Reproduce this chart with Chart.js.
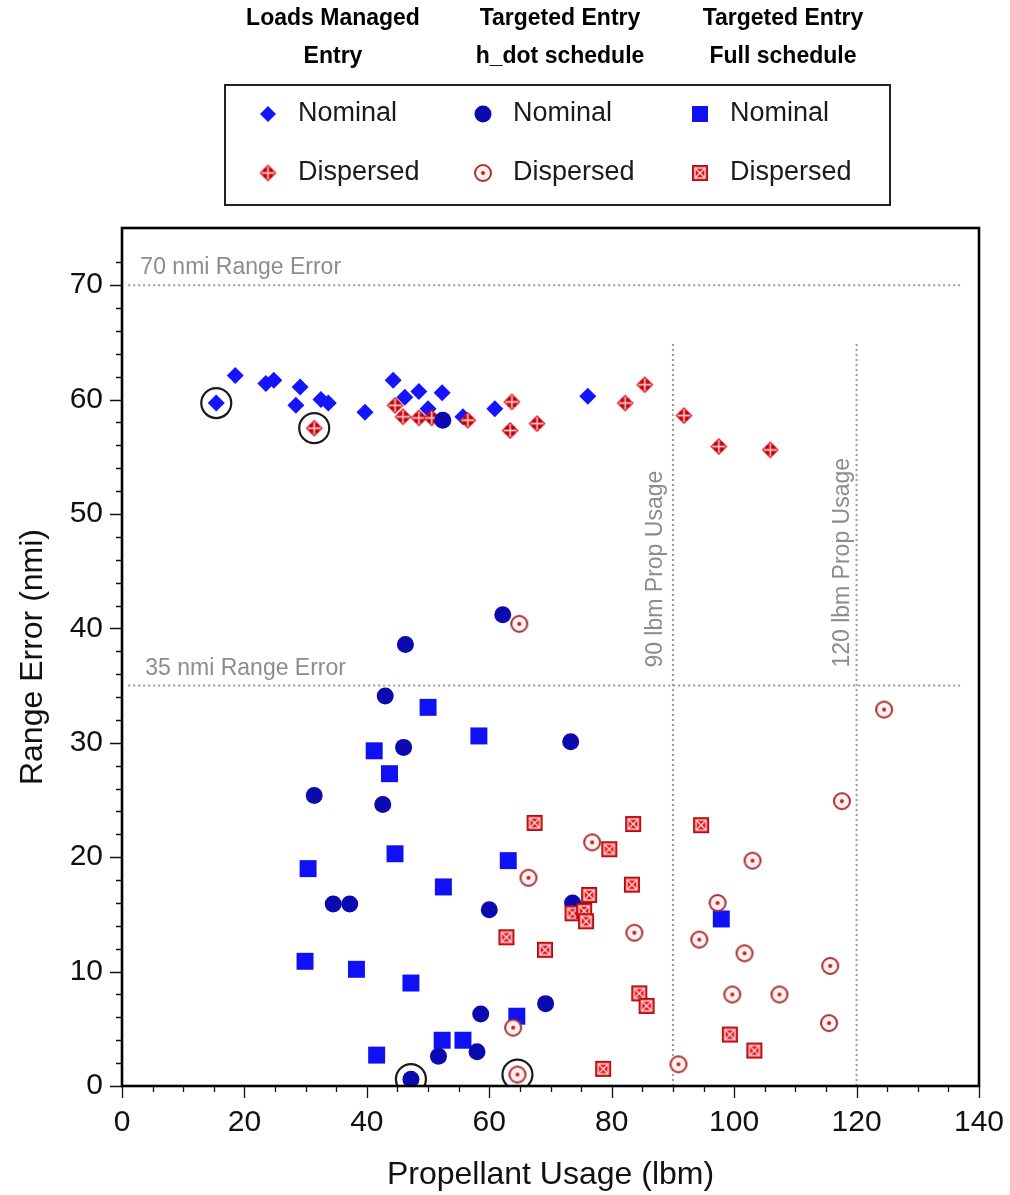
<!DOCTYPE html>
<html>
<head>
<meta charset="utf-8">
<script src="https://cdn.jsdelivr.net/npm/chart.js@4/dist/chart.umd.min.js"></script>
<style>
  html, body { margin: 0; padding: 0; background: #fff; }
</style>
</head>
<body>
<canvas id="range_chart" width="1010" height="1195"></canvas>
<script>
// Values: [propellant lbm, range error nmi]
const loadsNominal = [
  [15.4, 59.7], [18.5, 62.1], [23.5, 61.4], [24.8, 61.7], [29.1, 61.1], [28.4, 59.5],
  [32.5, 60.0], [33.7, 59.7], [39.7, 58.9], [44.3, 61.7], [46.2, 60.2], [48.5, 60.7],
  [50.0, 59.2], [52.3, 60.6], [55.7, 58.5], [60.9, 59.2], [76.1, 60.3]
];
const loadsDispersed = [
  [31.4, 57.5], [44.6, 59.5], [45.9, 58.5], [48.5, 58.4], [50.6, 58.4], [56.5, 58.2],
  [63.7, 59.8], [63.4, 57.3], [67.8, 57.9], [82.2, 59.7], [85.4, 61.3], [91.8, 58.6],
  [97.5, 55.9], [105.9, 55.6]
];
const hdotNominal = [
  [52.4, 58.2], [62.2, 41.2], [46.3, 38.6], [43.0, 34.1], [46.0, 29.6], [73.3, 30.1],
  [31.4, 25.4], [42.6, 24.6], [34.5, 15.9], [37.2, 15.9], [60.0, 15.4], [73.6, 16.0],
  [58.6, 6.3], [69.2, 7.2], [51.7, 2.6], [58.0, 3.0], [47.2, 0.6]
];
const hdotDispersed = [
  [64.9, 40.4], [124.5, 32.9], [117.6, 24.9], [76.8, 21.3], [103.0, 19.7], [66.4, 18.2],
  [97.3, 16.0], [83.7, 13.4], [94.3, 12.8], [101.7, 11.6], [115.7, 10.5], [99.7, 8.0],
  [107.4, 8.0], [115.5, 5.5], [63.9, 5.1], [90.9, 1.9], [64.6, 1.0]
];
const fullNominal = [
  [50.0, 33.1], [58.3, 30.6], [41.2, 29.3], [43.7, 27.3], [44.6, 20.3], [63.1, 19.7],
  [30.4, 19.0], [52.5, 17.4], [97.9, 14.6], [29.9, 10.9], [38.3, 10.2], [47.2, 9.0],
  [64.5, 6.1], [52.3, 4.0], [55.7, 4.0], [41.6, 2.7]
];
const fullDispersed = [
  [67.4, 23.0], [83.5, 22.9], [94.6, 22.8], [79.6, 20.7], [83.3, 17.6], [76.3, 16.7],
  [73.6, 15.1], [75.5, 15.3], [75.8, 14.4], [62.8, 13.0], [69.1, 11.9], [84.5, 8.1],
  [85.7, 7.0], [99.3, 4.5], [103.3, 3.1], [78.6, 1.5]
];
// circled cases
const highlighted = [[15.4, 59.7], [31.4, 57.5], [47.2, 0.6], [64.6, 1.0]];

// reference lines
const line70 = [[1, 70], [137, 70]];
const line35 = [[1, 35], [137, 35]];
const line90 = [[90, 0], [90, 65]];
const line120 = [[120, 0], [120, 65]];
const refLabels = ["70 nmi Range Error", "35 nmi Range Error", "90 lbm Prop Usage", "120 lbm Prop Usage"];

const groupTitles = [["Loads Managed", "Entry"], ["Targeted Entry", "h_dot schedule"], ["Targeted Entry", "Full schedule"]];
const seriesNames = ["Nominal", "Dispersed"];

const xTicks = { min: 0, max: 140, major: 20, minor: 5 };
const yTicks = { min: 0, max: 75, major: 10, minor: 2 };

const toXY = arr => arr.map(p => ({ x: p[0], y: p[1] }));

// little canvases used as point styles for the dispersed markers
function markerCanvas(size, draw) {
  const c = document.createElement("canvas");
  c.width = c.height = size;
  draw(c.getContext("2d"), size / 2);
  return c;
}

const dispDiamond = markerCanvas(19, (g, m) => {
  g.fillStyle = "#e3121c";
  g.beginPath();
  g.moveTo(m, 1); g.lineTo(18, m); g.lineTo(m, 18); g.lineTo(1, m);
  g.closePath();
  g.fill();
  g.strokeStyle = "#ffd6d6";
  g.lineWidth = 1.3;
  g.beginPath();
  g.moveTo(m, 3); g.lineTo(m, 16);
  g.moveTo(3, m); g.lineTo(16, m);
  g.stroke();
  g.fillStyle = "#8c0a12";
  [[m - 3, m - 3], [m + 3, m - 3], [m - 3, m + 3], [m + 3, m + 3]].forEach(([px, py]) => {
    g.beginPath(); g.arc(px, py, 1.3, 0, Math.PI * 2); g.fill();
  });
});

const dispRing = markerCanvas(20, (g, m) => {
  g.fillStyle = "#fff2f2";
  g.strokeStyle = "#a83030";
  g.lineWidth = 2;
  g.beginPath(); g.arc(m, m, 8, 0, Math.PI * 2); g.fill(); g.stroke();
  g.fillStyle = "#d41a1a";
  g.beginPath(); g.arc(m, m, 2, 0, Math.PI * 2); g.fill();
});

const dispSquare = markerCanvas(18, (g, m) => {
  g.fillStyle = "#e5141c";
  g.fillRect(1, 1, 16, 16);
  g.strokeStyle = "#a01010";
  g.lineWidth = 1;
  g.strokeRect(1.5, 1.5, 15, 15);
  g.strokeStyle = "#ffe0e0";
  g.lineWidth = 1.3;
  g.strokeRect(4, 4, 10, 10);
  g.beginPath();
  g.moveTo(4, 4); g.lineTo(14, 14);
  g.moveTo(14, 4); g.lineTo(4, 14);
  g.stroke();
});

const blueDiamond = "#1414ff";
const blueCircle = "#0a0ab0";
const blueSquare = "#1010f5";

function refLine(data) {
  return {
    data: toXY(data),
    showLine: true,
    borderColor: "#9a9a9a",
    borderWidth: 2,
    borderDash: [2, 3],
    pointRadius: 0,
    order: 20
  };
}

// frame, tick marks, legend block and reference line labels
const decorations = {
  id: "decorations",
  beforeDatasetsDraw(chart) {
    const { ctx, scales: { x, y } } = chart;
    ctx.save();
    ctx.fillStyle = "#8c8c8c";
    ctx.font = "23px 'Liberation Sans', Arial, sans-serif";
    ctx.textBaseline = "alphabetic";
    ctx.textAlign = "left";
    ctx.fillText(refLabels[0], x.getPixelForValue(3), y.getPixelForValue(70) - 11);
    ctx.fillText(refLabels[1], x.getPixelForValue(3.8), y.getPixelForValue(35) - 11);
    [[refLabels[2], 90, 11], [refLabels[3], 120, 8]].forEach(([t, v, off]) => {
      ctx.save();
      ctx.translate(x.getPixelForValue(v) - off, y.getPixelForValue(35) - 18);
      ctx.rotate(-Math.PI / 2);
      ctx.fillText(t, 0, 0);
      ctx.restore();
    });
    ctx.restore();
  },
  afterDraw(chart) {
    const { ctx, chartArea: a, scales: { x, y } } = chart;
    ctx.save();
    ctx.strokeStyle = "#111";
    ctx.lineWidth = 1.3;
    ctx.beginPath();
    x.ticks.forEach(t => {
      if (t.value % xTicks.minor) return;
      const px = Math.round(x.getPixelForValue(t.value)) + 0.5;
      ctx.moveTo(px, a.bottom);
      ctx.lineTo(px, a.bottom + (t.value % xTicks.major === 0 ? 12 : 6));
    });
    y.ticks.forEach(t => {
      if (t.value % yTicks.minor) return;
      const py = Math.round(y.getPixelForValue(t.value)) + 0.5;
      ctx.moveTo(a.left, py);
      ctx.lineTo(a.left - (t.value % yTicks.major === 0 ? 12 : 6), py);
    });
    ctx.stroke();
    ctx.lineWidth = 2.6;
    ctx.strokeStyle = "#000";
    ctx.strokeRect(a.left, a.top, a.right - a.left, a.bottom - a.top);

    // group headers
    const cols = [333, 560, 783];
    ctx.fillStyle = "#000";
    ctx.font = "bold 23px 'Liberation Sans', Arial, sans-serif";
    ctx.textAlign = "center";
    ctx.textBaseline = "middle";
    groupTitles.forEach((lines, i) => {
      ctx.fillText(lines[0], cols[i], 19);
      ctx.fillText(lines[1], cols[i], 57);
    });

    // legend box
    ctx.lineWidth = 2;
    ctx.strokeStyle = "#222";
    ctx.strokeRect(225, 85, 665, 120);
    const mx = [268, 483, 700];
    const rows = [114, 173];
    // nominal symbols
    ctx.fillStyle = blueDiamond;
    ctx.beginPath();
    ctx.moveTo(mx[0], rows[0] - 8); ctx.lineTo(mx[0] + 8, rows[0]);
    ctx.lineTo(mx[0], rows[0] + 8); ctx.lineTo(mx[0] - 8, rows[0]);
    ctx.closePath(); ctx.fill();
    ctx.fillStyle = blueCircle;
    ctx.beginPath(); ctx.arc(mx[1], rows[0], 8.5, 0, Math.PI * 2); ctx.fill();
    ctx.fillStyle = blueSquare;
    ctx.fillRect(mx[2] - 8, rows[0] - 8, 16, 16);
    // dispersed symbols
    [dispDiamond, dispRing, dispSquare].forEach((img, i) => {
      ctx.drawImage(img, mx[i] - img.width / 2, rows[1] - img.height / 2);
    });
    ctx.fillStyle = "#1a1a1a";
    ctx.font = "27px 'Liberation Sans', Arial, sans-serif";
    ctx.textAlign = "left";
    mx.forEach(cx => {
      ctx.fillText(seriesNames[0], cx + 30, rows[0]);
      ctx.fillText(seriesNames[1], cx + 30, rows[1]);
    });
    ctx.restore();
  }
};

const ctx = document.getElementById("range_chart");

new Chart(ctx, {
  type: "scatter",
  data: {
    datasets: [
      { label: "Loads Managed Entry Nominal", data: toXY(loadsNominal), pointStyle: "rectRot", pointRadius: 8.5, backgroundColor: blueDiamond, borderWidth: 0, order: 7 },
      { label: "Loads Managed Entry Dispersed", data: toXY(loadsDispersed), pointStyle: dispDiamond, pointRadius: 9, order: 6 },
      { label: "Full schedule Nominal", data: toXY(fullNominal), pointStyle: "rect", pointRadius: 12, backgroundColor: blueSquare, borderWidth: 0, order: 5 },
      { label: "h_dot schedule Nominal", data: toXY(hdotNominal), pointStyle: "circle", pointRadius: 8.5, backgroundColor: blueCircle, borderWidth: 0, order: 4 },
      { label: "h_dot schedule Dispersed", data: toXY(hdotDispersed), pointStyle: dispRing, pointRadius: 9, order: 3 },
      { label: "Full schedule Dispersed", data: toXY(fullDispersed), pointStyle: dispSquare, pointRadius: 9, order: 2 },
      { label: "Highlighted", data: toXY(highlighted), pointStyle: "circle", pointRadius: 15, backgroundColor: "rgba(0,0,0,0)", borderColor: "#1a1a1a", borderWidth: 2.2, order: 1 },
      refLine(line70),
      refLine(line35),
      refLine(line90),
      refLine(line120)
    ]
  },
  options: {
    responsive: false,
    animation: false,
    devicePixelRatio: 1,
    layout: { padding: { top: 228, right: 31, bottom: 0, left: 0 } },
    scales: {
      x: {
        type: "linear",
        min: xTicks.min,
        max: xTicks.max,
        afterFit: scale => {
          scale.height = 109;
          scale.paddingLeft = 0;
          scale.paddingRight = 0;
        },
        grid: { display: false, drawTicks: false },
        border: { display: false },
        ticks: {
          stepSize: xTicks.minor,
          autoSkip: false,
          maxRotation: 0,
          padding: 19,
          color: "#111",
          font: { family: "'Liberation Sans', Arial, sans-serif", size: 30 },
          callback: v => (v % xTicks.major === 0 ? v : "")
        },
        title: {
          display: true,
          text: "Propellant Usage (lbm)",
          color: "#111",
          padding: { top: 0, bottom: 1 },
          font: { family: "'Liberation Sans', Arial, sans-serif", size: 32 }
        }
      },
      y: {
        type: "linear",
        min: yTicks.min,
        max: yTicks.max,
        afterFit: scale => {
          scale.width = 122;
          scale.paddingTop = 0;
          scale.paddingBottom = 0;
        },
        grid: { display: false, drawTicks: false },
        border: { display: false },
        ticks: {
          stepSize: yTicks.minor,
          autoSkip: false,
          padding: 19,
          color: "#111",
          font: { family: "'Liberation Sans', Arial, sans-serif", size: 30 },
          callback: v => (v % yTicks.major === 0 ? v : "")
        },
        title: {
          display: true,
          text: "Range Error (nmi)",
          color: "#111",
          padding: { top: 14, bottom: 0 },
          font: { family: "'Liberation Sans', Arial, sans-serif", size: 32 }
        }
      }
    },
    plugins: {
      legend: { display: false },
      tooltip: { enabled: false }
    }
  },
  plugins: [decorations]
});
</script>
</body>
</html>
